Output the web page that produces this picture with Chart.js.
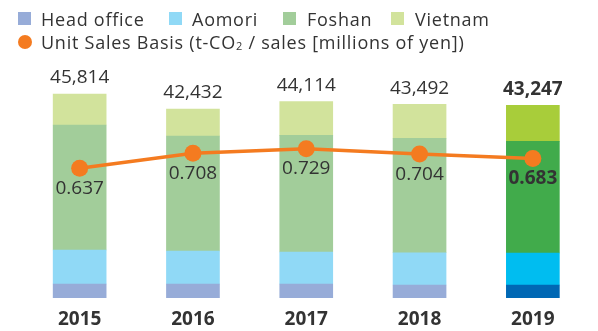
<!DOCTYPE html>
<html>
<head>
<meta charset="utf-8">
<script src="https://cdn.jsdelivr.net/npm/chart.js@4.4.1/dist/chart.umd.min.js"></script>
<style>
  html, body { margin: 0; padding: 0; background: #fff; }
  #wrap { position: relative; width: 598px; height: 331px; font-family: 'Open Sans', sans-serif; color: #333; }
  #chart { position: absolute; left: 0; top: 0; }
  .key { position: absolute; height: 13px; width: 13px; }
  .dot { position: absolute; width: 14px; height: 14px; border-radius: 50%; background: #f47b20; }
  .txt { position: absolute; font-size: 18px; line-height: 20px; letter-spacing: 0.75px; white-space: nowrap; }
  .txt sub { font-size: 11px; vertical-align: -1px; line-height: 0; }
</style>
</head>
<body>
<div id="wrap">
  <canvas id="chart" width="598" height="331"></canvas>
  <div id="legend"></div>
</div>
<script>
const years = ['2015', '2016', '2017', '2018', '2019']
const headOffice = [3140, 3140, 3140, 2920, 2920]
const aomori = [7640, 7410, 7190, 7250, 7190]
const foshan = [28070, 25830, 26200, 25700, 25100]
const vietnam = [6964, 6052, 7584, 7622, 8037]
const unitSales = [0.637, 0.708, 0.729, 0.704, 0.683]

// last year is drawn in the stronger palette
const lightColors = ['#97acd8', '#90d9f6', '#a2cd9a', '#d2e39c']
const strongColors = ['#0068b4', '#00bdf0', '#41ab4b', '#a8cd3a']
const lineColor = '#f47b20'
const textColor = '#333'
const fontFamily = "'Open Sans', sans-serif"

const barSeries = [
  { label: 'Head office', data: headOffice },
  { label: 'Aomori', data: aomori },
  { label: 'Foshan', data: foshan },
  { label: 'Vietnam', data: vietnam }
]

const totals = years.map((y, i) => barSeries.reduce((s, ser) => s + ser.data[i], 0))
const lastIdx = years.length - 1

// legend built as html above the canvas
const legend = document.getElementById('legend')
const keyX = [18, 169, 283, 391]
const textX = [41, 192, 307, 415]
barSeries.forEach((ser, i) => {
  const box = document.createElement('div')
  box.className = 'key'
  box.style.left = keyX[i] + 'px'
  box.style.top = '12px'
  box.style.background = lightColors[i]
  legend.appendChild(box)
  const t = document.createElement('div')
  t.className = 'txt'
  t.style.left = textX[i] + 'px'
  t.style.top = '9px'
  t.textContent = ser.label
  legend.appendChild(t)
})
const dot = document.createElement('div')
dot.className = 'dot'
dot.style.left = '18px'
dot.style.top = '35px'
legend.appendChild(dot)
const lineText = document.createElement('div')
lineText.className = 'txt'
lineText.style.left = '41px'
lineText.style.top = '32px'
lineText.innerHTML = 'Unit Sales Basis (t-CO<sub>2</sub> / sales [millions of yen])'
legend.appendChild(lineText)

// totals above the stacks, intensity values under the points
const valueLabels = {
  id: 'valueLabels',
  afterDatasetsDraw (chart) {
    const ctx = chart.ctx
    const x = chart.scales.x
    const y = chart.scales.y
    const lineMeta = chart.getDatasetMeta(chart.data.datasets.length - 1)
    ctx.save()
    ctx.fillStyle = textColor
    ctx.textAlign = 'center'
    ctx.textBaseline = 'middle'
    totals.forEach((total, i) => {
      const weight = i === lastIdx ? 'bold ' : ''
      ctx.font = weight + '19px ' + fontFamily
      const top = y.getPixelForValue(total)
      ctx.fillText(total.toLocaleString('en-US'), x.getPixelForValue(i), top - 16)
      const pt = lineMeta.data[i]
      ctx.fillText(unitSales[i].toFixed(3), pt.x, pt.y + 20)
    })
    ctx.restore()
  }
}

const datasets = barSeries.map((ser, i) => ({
  type: 'bar',
  label: ser.label,
  data: ser.data,
  backgroundColor: years.map((y, j) => j === lastIdx ? strongColors[i] : lightColors[i]),
  stack: 'sites',
  yAxisID: 'y',
  order: 1,
  barThickness: 53
}))

datasets.push({
  type: 'line',
  label: 'Unit Sales Basis',
  data: unitSales,
  yAxisID: 'y1',
  borderColor: lineColor,
  backgroundColor: lineColor,
  borderWidth: 3.5,
  pointRadius: 8.5,
  pointBackgroundColor: lineColor,
  pointBorderWidth: 0,
  tension: 0,
  order: 0
})

new Chart(document.getElementById('chart'), {
  data: {
    labels: years,
    datasets: datasets
  },
  options: {
    responsive: false,
    animation: false,
    layout: {
      padding: { top: 60, left: 23, right: 8, bottom: 0 }
    },
    scales: {
      x: {
        stacked: true,
        grid: { display: false, drawTicks: false },
        border: { display: false },
        ticks: {
          padding: 10,
          color: textColor,
          font: { family: fontFamily, size: 19, weight: 'bold' }
        },
        // fixed band under the bars for the year labels
        afterFit (scale) {
          scale.height = 33
        }
      },
      y: {
        stacked: true,
        display: false,
        min: 0,
        max: 53450
      },
      y1: {
        display: false,
        min: 0.025,
        max: 1.148
      }
    },
    plugins: {
      legend: { display: false },
      tooltip: { enabled: false }
    }
  },
  plugins: [valueLabels]
})
</script>
</body>
</html>
